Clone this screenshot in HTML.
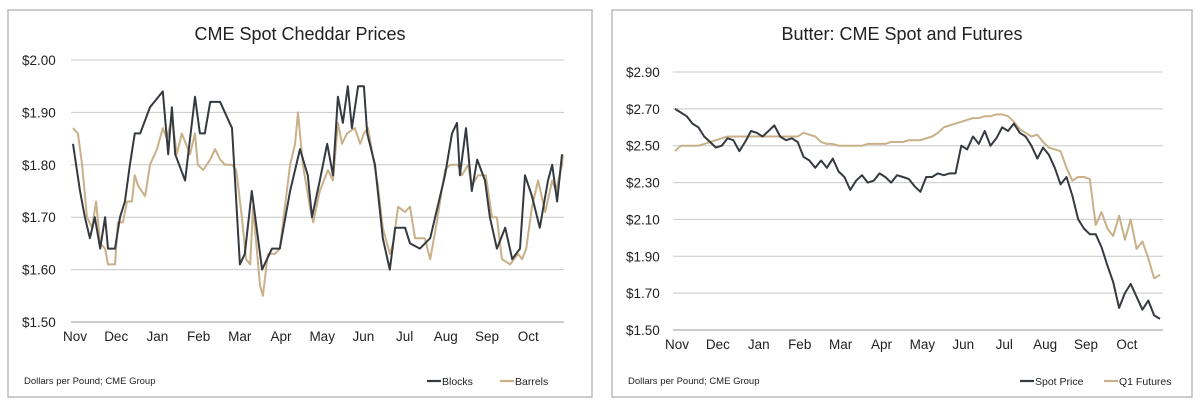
<!DOCTYPE html>
<html><head><meta charset="utf-8"><style>
html,body{margin:0;padding:0;background:#fff;width:1200px;height:405px;overflow:hidden}
svg{font-family:"Liberation Sans",sans-serif}
</style></head><body>
<svg id="s" width="1200" height="405"></svg>
<script>
const monthLabels=["Nov","Dec","Jan","Feb","Mar","Apr","May","Jun","Jul","Aug","Sep","Oct"];
const cheeseTicks=[1.5,1.6,1.7,1.8,1.9,2.0];
// cheddar: month position (0 = start of Nov) and price
const blocksMonth=[0,.17,.29,.41,.53,.66,.78,.85,1.02,1.14,1.26,1.38,1.5,1.63,1.87,2.18,2.31,2.4,2.48,2.72,2.96,3.08,3.2,3.33,3.57,3.86,4.05,4.17,4.34,4.59,4.83,5.02,5.27,5.51,5.7,5.8,5.99,6.17,6.31,6.43,6.55,6.67,6.77,6.92,7.06,7.14,7.33,7.52,7.69,7.82,8.06,8.18,8.42,8.67,9.03,9.2,9.32,9.39,9.54,9.68,9.81,10.0,10.12,10.29,10.49,10.66,10.85,10.97,11.14,11.33,11.53,11.63,11.75,11.87];
const blocks=[1.84,1.75,1.70,1.66,1.70,1.64,1.70,1.64,1.64,1.70,1.73,1.80,1.86,1.86,1.91,1.94,1.82,1.91,1.82,1.77,1.93,1.86,1.86,1.92,1.92,1.87,1.61,1.63,1.75,1.60,1.64,1.64,1.75,1.83,1.78,1.70,1.77,1.84,1.78,1.93,1.88,1.95,1.87,1.95,1.95,1.86,1.80,1.66,1.60,1.68,1.68,1.65,1.64,1.66,1.78,1.86,1.88,1.78,1.87,1.75,1.81,1.77,1.70,1.64,1.68,1.62,1.64,1.78,1.74,1.68,1.77,1.80,1.73,1.82];
const barrelsMonth=[0,.12,.22,.34,.46,.56,.66,.78,.85,1.02,1.09,1.21,1.31,1.43,1.5,1.58,1.75,1.87,2.04,2.18,2.28,2.4,2.52,2.64,2.84,2.96,3.03,3.16,3.33,3.45,3.57,3.69,3.86,3.96,4.1,4.2,4.3,4.37,4.54,4.61,4.73,4.9,5.02,5.27,5.39,5.46,5.58,5.75,5.83,5.99,6.19,6.31,6.43,6.53,6.65,6.84,6.97,7.06,7.16,7.4,7.52,7.69,7.77,7.89,8.06,8.18,8.3,8.42,8.54,8.67,8.83,9.03,9.15,9.34,9.44,9.59,9.68,9.83,10.02,10.17,10.29,10.41,10.61,10.8,10.9,11.0,11.14,11.29,11.46,11.63,11.72,11.87,11.89];
const barrels=[1.87,1.86,1.80,1.70,1.68,1.73,1.65,1.64,1.61,1.61,1.69,1.69,1.73,1.73,1.78,1.76,1.74,1.80,1.83,1.87,1.85,1.89,1.82,1.86,1.82,1.86,1.80,1.79,1.81,1.83,1.81,1.80,1.80,1.79,1.70,1.62,1.61,1.72,1.57,1.55,1.63,1.63,1.64,1.80,1.84,1.90,1.80,1.72,1.69,1.75,1.79,1.77,1.88,1.84,1.86,1.87,1.84,1.86,1.87,1.76,1.68,1.63,1.65,1.72,1.71,1.72,1.66,1.66,1.66,1.62,1.69,1.79,1.80,1.80,1.78,1.80,1.76,1.78,1.78,1.70,1.70,1.62,1.61,1.63,1.62,1.64,1.72,1.77,1.71,1.77,1.75,1.80,1.82];
const butterTicks=[1.5,1.7,1.9,2.1,2.3,2.5,2.7,2.9];
// butter: sampled 7 times per month from Nov
const spot=[2.70,2.68,2.66,2.62,2.60,2.55,2.52,
2.49,2.50,2.54,2.53,2.47,2.52,2.58,
2.57,2.55,2.58,2.61,2.55,2.53,2.54,
2.52,2.44,2.42,2.38,2.42,2.38,2.43,
2.36,2.33,2.26,2.31,2.34,2.30,2.31,
2.35,2.33,2.30,2.34,2.33,2.32,2.28,
2.25,2.33,2.33,2.35,2.34,2.35,2.35,
2.50,2.48,2.55,2.51,2.58,2.50,2.54,
2.60,2.58,2.62,2.57,2.55,2.50,2.43,
2.49,2.45,2.38,2.29,2.33,2.23,2.10,
2.05,2.02,2.02,1.95,1.85,1.76,1.62,
1.70,1.75,1.68,1.61,1.66,1.58,1.56];
const futures=[2.47,2.50,2.50,2.50,2.50,2.51,2.52,
2.53,2.54,2.55,2.55,2.55,2.55,2.55,
2.55,2.55,2.55,2.55,2.55,2.55,2.55,
2.55,2.57,2.56,2.55,2.52,2.51,2.51,
2.50,2.50,2.50,2.50,2.50,2.51,2.51,
2.51,2.51,2.52,2.52,2.52,2.53,2.53,
2.53,2.54,2.55,2.57,2.60,2.61,2.62,
2.63,2.64,2.65,2.65,2.66,2.66,2.67,
2.67,2.66,2.63,2.59,2.57,2.55,2.56,
2.52,2.49,2.48,2.47,2.38,2.31,2.33,
2.33,2.32,2.07,2.14,2.05,2.01,2.12,
1.99,2.10,1.94,1.98,1.89,1.78,1.80];

const NS="http://www.w3.org/2000/svg",svg=document.getElementById('s');
function el(t,a,p){const e=document.createElementNS(NS,t);for(const k in a)e.setAttribute(k,a[k]);(p||svg).appendChild(e);return e;}
const DARK="#343a40",TAN="#c9b089";
function chart(o){
  const g=el('g',{});
  
  
  const fr=el('rect',{x:o.bx,y:10,width:o.bw,height:387,fill:'#fff',stroke:'#aaa','stroke-width':1.2},g);
  
  
  const t=el('text',{x:o.bx+o.bw/2,y:40,'text-anchor':'middle','font-size':18,fill:'#222'},g);t.textContent=o.title;
  
  
  const ymin=o.ticks[0],ymax=o.ticks[o.ticks.length-1];
  const Y=v=>o.y1+(ymax-v)/(ymax-ymin)*(o.y0-o.y1);
  const X=m=>o.m0+m*o.mw;
  o.ticks.forEach(v=>{
    const l=el('line',{x1:o.x0,x2:o.x1,y1:Y(v),y2:Y(v),stroke:v==ymin?'#999':'#c8c8c8','stroke-width':1},g);
    
    
    const tx=el('text',{x:o.bx+14,y:Y(v)+5,'font-size':13.5,fill:'#222'},g);tx.textContent='$'+v.toFixed(2);
    
    
  });
  monthLabels.forEach((m,i)=>{
    const tx=el('text',{x:X(i)+2,y:o.y0+19,'text-anchor':'middle','font-size':13.5,fill:'#222'},g);tx.textContent=m;
    
    
  });
  o.series.forEach(s=>{
    const p=el('polyline',{points:s.d.map((v,i)=>X(s.m[i]).toFixed(1)+','+Y(v).toFixed(1)).join(' '),fill:'none',stroke:s.c,'stroke-width':2,'stroke-linejoin':'round'},g);
    
    
  });
  const src=el('text',{x:o.bx+16,y:384,'font-size':9.5,fill:'#222'},g);src.textContent='Dollars per Pound; CME Group';
  
  
  o.legend.forEach(L=>{
    const lg=el('g',{},g);
    
    
    el('line',{x1:L.x,x2:L.x+14,y1:381,y2:381,stroke:L.c,'stroke-width':2.2},lg);
    const tx=el('text',{x:L.x+15,y:385,'font-size':10.5,fill:'#222'},lg);tx.textContent=L.t;
  });
}
const idxMonths=a=>a.map((v,i)=>i/7);
chart({name:'cheddar-chart',bx:8,bw:584,title:'CME Spot Cheddar Prices',x0:71,x1:564,y0:322,y1:60,m0:73,mw:41.2,ticks:cheeseTicks,
  series:[{n:'barrels',d:barrels,m:barrelsMonth,c:TAN},{n:'blocks',d:blocks,m:blocksMonth,c:DARK}],
  legend:[{x:427,c:DARK,t:'Blocks'},{x:500,c:TAN,t:'Barrels'}]});
chart({name:'butter-chart',bx:612,bw:580,title:'Butter: CME Spot and Futures',x0:673,x1:1163,y0:330,y1:72,m0:675,mw:40.9,ticks:butterTicks,
  series:[{n:'q1-futures',d:futures,m:idxMonths(futures),c:TAN},{n:'spot-price',d:spot,m:idxMonths(spot),c:DARK}],
  legend:[{x:1020,c:DARK,t:'Spot Price'},{x:1104,c:TAN,t:'Q1 Futures'}]});
</script>
</body></html>
